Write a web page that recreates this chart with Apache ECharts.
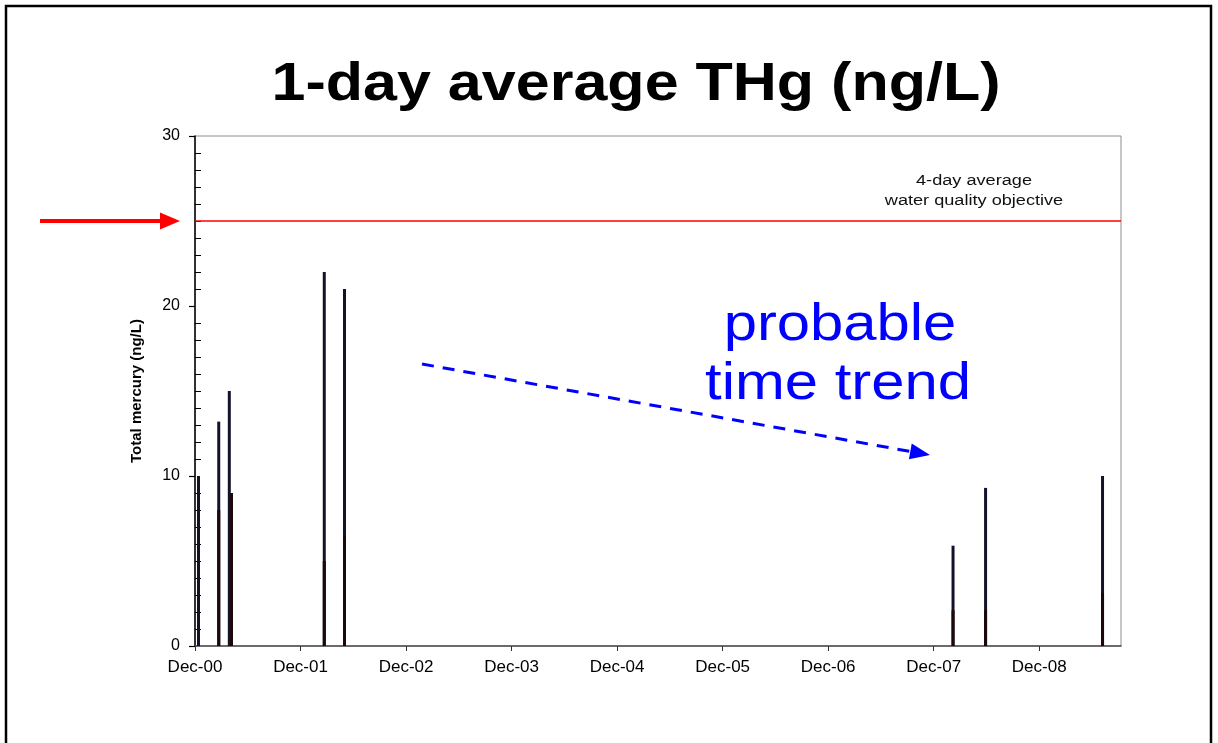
<!DOCTYPE html>
<html>
<head>
<meta charset="utf-8">
<script src="https://cdn.jsdelivr.net/npm/echarts@6/dist/echarts.min.js"></script>
<style>
  html, body { margin: 0; padding: 0; background: #fff; }
  #chart { width: 1218px; height: 743px; }
</style>
</head>
<body>
<div id="chart"></div>
<script>
// ---- data (x = months after Dec-00) ----
const xTickLabels = ['Dec-00','Dec-01','Dec-02','Dec-03','Dec-04','Dec-05','Dec-06','Dec-07','Dec-08'];
const yTickLabels = ['0','10','20','30'];
const sampleMonthsA = [0.4, 2.7, 3.9, 14.7, 17.0, 86.2, 89.9, 103.2];
const thgA          = [10, 13.2, 15, 22, 21, 5.9, 9.3, 10];
const sampleMonthsB = [2.7, 4.15, 14.7, 17.0, 86.2, 89.9, 103.2];
const thgB          = [8, 9, 5, 6.5, 2.1, 2.1, 3.1];
const objectiveValue = 25;
const xMaxMonths = 105.3;

const FONT = '"Liberation Sans", Arial, sans-serif';
const chart = echarts.init(document.getElementById('chart'));

const pairsA = sampleMonthsA.map((m, i) => [m, thgA[i]]);
const pairsB = sampleMonthsB.map((m, i) => [m, thgB[i]]);

const option = {
  animation: false,
  backgroundColor: '#ffffff',
  grid: { left: 195, right: 97, top: 136, bottom: 97, show: true, borderColor: '#8c8c8c', borderWidth: 1, backgroundColor: 'transparent' },
  xAxis: {
    type: 'value', min: 0, max: xMaxMonths, interval: 12,
    axisLine: { show: true, onZero: false, lineStyle: { color: '#4d4d4d', width: 1.5 } },
    axisTick: { show: true, length: 5, lineStyle: { color: '#333' } },
    splitLine: { show: false },
    axisLabel: {
      margin: 13, fontFamily: FONT, fontSize: 17, color: '#000',
      showMaxLabel: false,
      formatter: v => { const k = Math.round(v / 12); return Math.abs(v - k * 12) < 1e-6 ? (xTickLabels[k] || '') : ''; }
    }
  },
  yAxis: [{
    type: 'value', min: 0, max: 30, interval: 10,
    name: 'Total mercury (ng/L)', nameLocation: 'middle', nameGap: 51,
    nameTextStyle: { fontFamily: FONT, fontSize: 15, fontWeight: 'bold', color: '#000' },
    axisLine: { show: true, lineStyle: { color: '#000', width: 1.5 } },
    axisTick: { show: true, length: 6, lineStyle: { color: '#000', width: 1.2 } },
    splitLine: { show: false },
    axisLabel: { margin: 15, fontFamily: FONT, fontSize: 16, color: '#000',
      formatter: v => yTickLabels[Math.round(v / 10)] || '' }
  }, {
    type: 'value', min: 0, max: 30, interval: 10, position: 'left',
    axisLine: { show: false },
    axisTick: { show: false, inside: true },
    minorTick: { show: true, splitNumber: 10, length: 6, lineStyle: { color: '#000', width: 1 } },
    axisLabel: { show: false },
    splitLine: { show: false }
  }],
  series: [{
    name: 'A', type: 'bar', data: pairsA, barWidth: 3,
    itemStyle: { color: '#12122a' },
    markLine: {
      silent: true, symbol: 'none', label: { show: false },
      lineStyle: { color: '#ff0000', width: 1.5, type: 'solid' },
      data: [{ yAxis: objectiveValue }]
    }
  }, {
    name: 'B', type: 'bar', data: pairsB, barWidth: 3, barGap: '-100%',
    itemStyle: { color: '#1c0808' }
  }]
};
chart.setOption(option);

// annotations
const yObj = chart.convertToPixel({ yAxisIndex: 0 }, objectiveValue);
const tip = [930, 455], start = [422, 364];
const dx = tip[0] - start[0], dy = tip[1] - start[1], L = Math.hypot(dx, dy);
const ux = dx / L, uy = dy / L, nx = -uy, ny = ux;
const base = [tip[0] - 20 * ux, tip[1] - 20 * uy];

chart.setOption({
  graphic: [
    { type: 'rect', shape: { x: 6, y: 6, width: 1205, height: 770 }, style: { fill: 'none', stroke: '#000', lineWidth: 2.5 }, silent: true },
    { type: 'text', x: 636, y: 85, scaleX: 1.13, style: { text: '1-day average THg (ng/L)', font: 'bold 54px ' + FONT, fill: '#000', align: 'center', verticalAlign: 'middle' } },
    { type: 'text', x: 974, y: 181, scaleX: 1.17, style: { text: '4-day average', font: '15.5px ' + FONT, fill: '#111', align: 'center', verticalAlign: 'middle' } },
    { type: 'text', x: 974, y: 201, scaleX: 1.17, style: { text: 'water quality objective', font: '15.5px ' + FONT, fill: '#111', align: 'center', verticalAlign: 'middle' } },
    { type: 'text', x: 840, y: 326, scaleX: 1.15, style: { text: 'probable', font: '52px ' + FONT, fill: '#0000ff', align: 'center', verticalAlign: 'middle' } },
    { type: 'text', x: 838, y: 385, scaleX: 1.15, style: { text: 'time trend', font: '52px ' + FONT, fill: '#0000ff', align: 'center', verticalAlign: 'middle' } },
    { type: 'line', shape: { x1: start[0], y1: start[1], x2: base[0], y2: base[1] }, style: { stroke: '#0000ff', lineWidth: 3, lineDash: [12, 9] } },
    { type: 'polygon', shape: { points: [tip, [base[0] + 8 * nx, base[1] + 8 * ny], [base[0] - 8 * nx, base[1] - 8 * ny]] }, style: { fill: '#0000ff' } },
    { type: 'line', shape: { x1: 40, y1: yObj, x2: 162, y2: yObj }, style: { stroke: '#ff0000', lineWidth: 4 } },
    { type: 'polygon', shape: { points: [[180, yObj], [160, yObj - 8.5], [160, yObj + 8.5]] }, style: { fill: '#ff0000' } }
  ]
});
</script>
</body>
</html>
